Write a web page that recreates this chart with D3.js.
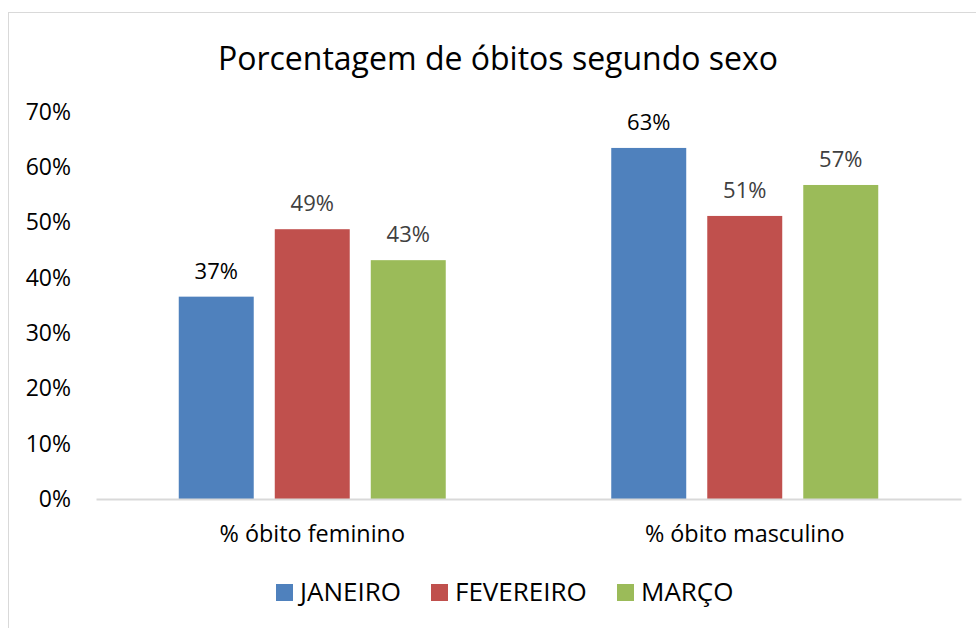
<!DOCTYPE html>
<html>
<head>
<meta charset="utf-8">
<script src="https://cdn.jsdelivr.net/npm/d3@7"></script>
<style>
  body { margin: 0; background: #fff; }
  text { font-family: "Open Sans", sans-serif; }
</style>
</head>
<body>
<svg class="chart"></svg>
<script>
// data
var categories = ["% óbito feminino", "% óbito masculino"];
var series = ["JANEIRO", "FEVEREIRO", "MARÇO"];
var janeiro = [0.366, 0.635];
var fevereiro = [0.488, 0.512];
var marco = [0.432, 0.568];
var labels = [["37%", "63%"], ["49%", "51%"], ["43%", "57%"]];
var yTicks = [0, 0.1, 0.2, 0.3, 0.4, 0.5, 0.6, 0.7];

var values = [janeiro, fevereiro, marco];
var colors = ["#4F81BD", "#C0504D", "#9BBB59"];
var labelColors = ["#000000", "#404040", "#404040"];

var width = 976, height = 628;
var svg = d3.select(".chart").attr("width", width).attr("height", height);

// outer border
svg.append("rect")
  .attr("x", 8.5).attr("y", 12.5)
  .attr("width", 1000).attr("height", 700)
  .attr("fill", "none").attr("stroke", "#D9D9D9").attr("stroke-width", 1);

// title
svg.append("text")
  .attr("x", 498).attr("y", 70)
  .attr("text-anchor", "middle")
  .style("font-size", "32px")
  .attr("fill", "#000")
  .text("Porcentagem de óbitos segundo sexo");

var x0 = d3.scaleBand().domain(categories).range([96, 961]).padding(0);
var x1 = d3.scaleBand().domain(series).range([0, x0.bandwidth()])
  .paddingInner(0.219).paddingOuter(0.862);
var y = d3.scaleLinear().domain([0, 0.7]).range([499, 112]);

// y axis labels
var yAxis = d3.axisLeft(y).tickValues(yTicks).tickFormat(d3.format(".0%")).tickSize(0).tickPadding(0);
var gy = svg.append("g").attr("transform", "translate(71,0)").call(yAxis);
gy.select(".domain").remove();
gy.selectAll("text")
  .style("font-size", "23px")
  .attr("fill", "#000")
  .attr("font-family", null);

// bars
series.forEach(function(s, i){
  var g = svg.append("g");
  g.selectAll("rect")
    .data(categories)
    .enter()
    .append("rect")
    .attr("x", function(c){ return x0(c) + x1(s); })
    .attr("y", function(c, j){ return y(values[i][j]); })
    .attr("width", x1.bandwidth())
    .attr("height", function(c, j){ return y(0) - y(values[i][j]); })
    .attr("fill", colors[i]);
  g.selectAll("text")
    .data(categories)
    .enter()
    .append("text")
    .attr("x", function(c){ return x0(c) + x1(s) + x1.bandwidth() / 2; })
    .attr("y", function(c, j){ return y(values[i][j]) - 18; })
    .attr("text-anchor", "middle")
    .style("font-size", "22px")
    .attr("fill", labelColors[i])
    .text(function(c, j){ return labels[i][j]; });
});

// baseline + category labels
var xAxis = d3.axisBottom(x0).tickSize(0).tickPadding(0);
var gx = svg.append("g").attr("transform", "translate(0," + y(0) + ")").call(xAxis);
gx.select(".domain").attr("stroke", "#D9D9D9").attr("stroke-width", 2);
gx.selectAll("text")
  .attr("dy", null)
  .attr("y", 43)
  .style("font-size", "23.4px")
  .attr("fill", "#000")
  .attr("font-family", null);

// legend
var legendX = [276, 431, 617];
var lg = svg.append("g");
series.forEach(function(s, i){
  lg.append("rect")
    .attr("x", legendX[i]).attr("y", 584)
    .attr("width", 17).attr("height", 17)
    .attr("fill", colors[i]);
  lg.append("text")
    .attr("x", legendX[i] + 24).attr("y", 601)
    .style("font-size", "26px")
    .attr("fill", "#000")
    .text(s);
});
</script>
</body>
</html>
